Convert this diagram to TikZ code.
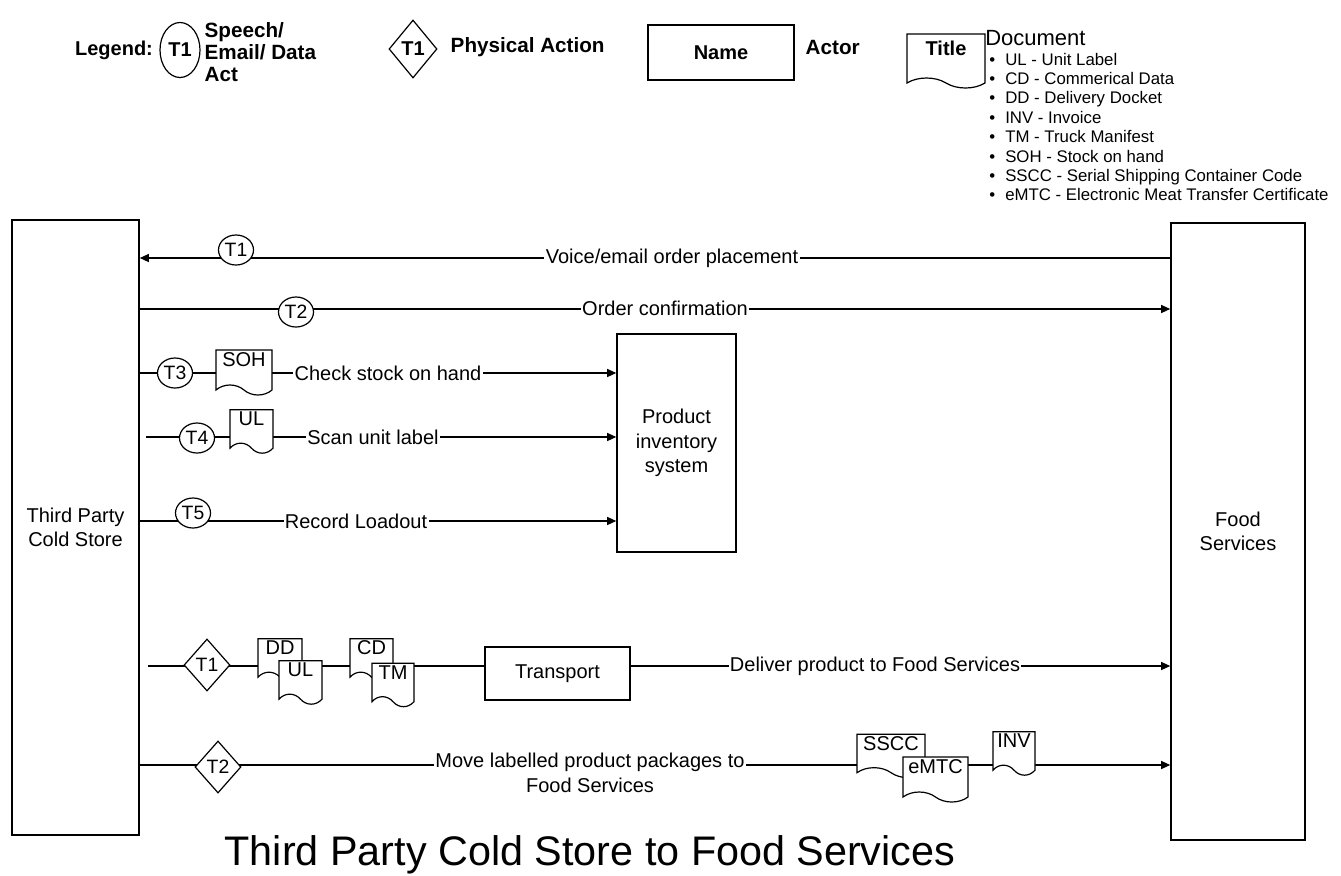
\documentclass[tikz,border=0pt]{standalone}
\usepackage{fontspec}
\setmainfont{Liberation Sans}
\usetikzlibrary{shapes.geometric,shapes.symbols,arrows.meta,backgrounds,positioning}
\newdimen\pxu \pxu=0.75pt
\newcommand{\bodyfont}{\fontsize{15}{18.5}\selectfont}
\newcommand{\tagfont}{\fontsize{14.5}{15}\selectfont}

\tikzset{
  actor/.style={draw,line width=1.2pt,fill=white,align=center,inner sep=2pt,font=\bodyfont},
  speech/.style={ellipse,draw,line width=0.9pt,fill=white,inner sep=0pt,
    minimum width=35\pxu,minimum height=30\pxu,font=\tagfont},
  physical/.style={diamond,draw,line width=0.9pt,fill=white,inner sep=0pt,
    minimum width=46\pxu,minimum height=52\pxu,font=\tagfont},
  doc/.style={tape,tape bend top=none,tape bend bottom=out and in,tape bend height=10\pxu,
    draw,line width=0.9pt,fill=white,inner sep=1pt,text height=11pt,text depth=12pt,font=\bodyfont},
  flowlabel/.style={fill=white,inner sep=1pt,font=\bodyfont},
  flow/.style={line width=0.9pt,-{Triangle[length=6.75pt,width=6pt]}},
  legendtext/.style={anchor=west,align=left,font=\bfseries\fontsize{15.5}{16.5}\selectfont}
}

\begin{document}
\begin{tikzpicture}[x=0.75pt,y=-0.75pt]
\useasboundingbox (0,0) rectangle (1341,875);

% legend
\node[font=\bfseries\fontsize{15}{18}\selectfont] (legend) at (114,50) {Legend:};
\node[speech,minimum width=40\pxu,minimum height=55\pxu,font=\bfseries\fontsize{15}{18}\selectfont] (lgspeech) at (180,50) {T1};
\node[legendtext] (lgspeechtext) at (200,52) {Speech/\\Email/ Data\\Act};
\node[physical,minimum width=48\pxu,minimum height=58\pxu,font=\bfseries\fontsize{15}{18}\selectfont] (lgphysical) at (413,49) {T1};
\node[legendtext] (lgphysicaltext) at (446,47) {Physical Action};
\node[actor,minimum width=146\pxu,minimum height=55\pxu,font=\bfseries\fontsize{15}{18}\selectfont] (lgactor) at (721,52.5) {Name};
\node[legendtext] (lgactortext) at (801,47) {Actor};
\node[doc,minimum width=78\pxu,minimum height=54\pxu,font=\bfseries\fontsize{15}{18}\selectfont] (lgdoc) at (946,56) {Title};
\node[anchor=west,inner sep=0pt,font=\fontsize{16.5}{18}\selectfont] (lgdoctext) at (985,38) {Document};
\foreach \abbr [count=\i] in {UL - Unit Label,CD - Commerical Data,DD - Delivery Docket,INV - Invoice,
    TM - Truck Manifest,SOH - Stock on hand,SSCC - Serial Shipping Container Code,
    eMTC - Electronic Meat Transfer Certificate}
  \node[anchor=base west,inner sep=0pt,font=\fontsize{12.6}{14}\selectfont] (item\i) at (989,{65+19.4*(\i-1)})
    {\makebox[16\pxu][l]{\textbullet}\abbr};

% actors
\node[actor,minimum width=127\pxu,minimum height=615\pxu] (cold) at (75.5,527.5) {Third Party\\Cold Store};
\node[actor,minimum width=134\pxu,minimum height=617\pxu] (food) at (1238,531.5) {Food\\Services};
\node[actor,minimum width=119\pxu,minimum height=218\pxu] (pis) at (676.5,443) {Product\\inventory\\system};
\node[actor,minimum width=145\pxu,minimum height=53\pxu] (transport) at (557.5,673.5) {Transport};

% speech / email / data acts
\coordinate (r1) at (0,258);
\coordinate (r2) at (0,309);
\coordinate (r3) at (0,373);
\coordinate (s4) at (146,437);
\coordinate (r5) at (0,521);
\node[speech] (t1) at (236,250) {T1};
\node[flowlabel] (voice) at (672,258) {Voice/email order placement};
\node[speech] (t2) at (296,312) {T2};
\node[flowlabel] (confirm) at (665,308) {Order confirmation};
\node[speech] (t3) at (175,373) {T3};
\node[doc,minimum width=56\pxu,minimum height=45\pxu] (soh) at (244,367.5) {SOH};
\node[flowlabel] (check) at (388,373) {Check stock on hand};
\node[speech] (t4) at (197,438) {T4};
\node[doc,minimum width=43\pxu,minimum height=41\pxu] (ul) at (251.5,426.5) {UL};
\node[flowlabel] (scan) at (373,437) {Scan unit label};
\node[speech] (t5) at (193,513) {T5};
\node[flowlabel] (record) at (356,521) {Record Loadout};

% physical actions
\coordinate (s6) at (148,666);
\coordinate (r7) at (0,765);
\node[physical] (p1) at (207,665) {T1};
\node[doc,minimum width=44\pxu,minimum height=41\pxu] (dd) at (280,655.5) {DD};
\node[doc,minimum width=43\pxu,minimum height=41\pxu] (ultwo) at (300.5,677.5) {UL};
\node[doc,minimum width=43\pxu,minimum height=41\pxu] (cd) at (371.5,655.5) {CD};
\node[doc,minimum width=42\pxu,minimum height=40\pxu] (tm) at (393,680) {TM};
\node[flowlabel] (deliver) at (875,666) {Deliver product to Food Services};
\node[physical] (p2) at (218,767) {T2};
\node[flowlabel,align=center] (move) at (590,773) {Move labelled product packages to\\Food Services};
\node[doc,minimum width=68\pxu,minimum height=40\pxu] (sscc) at (891,751) {SSCC};
\node[doc,minimum width=65\pxu,minimum height=45\pxu] (emtc) at (935.5,774.5) {eMTC};
\node[doc,minimum width=42\pxu,minimum height=35\pxu] (inv) at (1014,748.5) {INV};

\begin{scope}[on background layer]
\draw[flow] (food.west |- r1) -- (cold.east |- r1);
\draw[flow] (cold.east |- r2) -- (food.west |- r2);
\draw[flow] (cold.east |- r3) -- (pis.west |- r3);
\draw[flow] (s4) -- (pis.west |- s4);
\draw[flow] (cold.east |- r5) -- (pis.west |- r5);
\draw[flow] (s6) -- (food.west |- s6);
\draw[flow] (cold.east |- r7) -- (food.west |- r7);
\end{scope}

\node[font=\fontsize{31}{36}\selectfont] (title) at (590,855) {Third Party Cold Store to Food Services};
\end{tikzpicture}
\end{document}
